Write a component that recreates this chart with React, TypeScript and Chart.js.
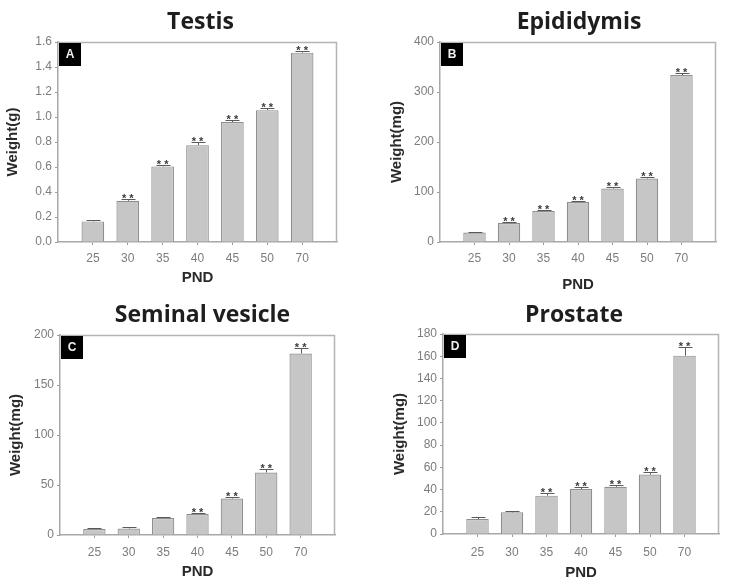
import React, { useEffect, useRef } from 'react';
import { Chart, registerables } from 'chart.js';
Chart.register(...registerables);

// ---- data ----
const PND = ['25', '30', '35', '40', '45', '50', '70'];

const testisValues = [0.165, 0.33, 0.605, 0.775, 0.96, 1.055, 1.515];
const testisErrors = [0.008, 0.015, 0.015, 0.025, 0.02, 0.02, 0.015];
const testisSig = [false, true, true, true, true, true, true];

const epididymisValues = [19, 38, 62, 80, 107, 127, 334];
const epididymisErrors = [1.5, 3, 3, 3, 3, 3, 4];
const epididymisSig = [false, true, true, true, true, true, true];

const vesicleValues = [6, 6.5, 17, 21, 36.5, 62.5, 181.5];
const vesicleErrors = [0.8, 1.5, 0.8, 1.5, 1.5, 3.5, 6];
const vesicleSig = [false, false, false, true, true, true, true];

const prostateValues = [13.5, 19.5, 34.5, 40.5, 42.5, 53.5, 160.5];
const prostateErrors = [1.5, 1, 2, 2, 1.5, 2, 8];
const prostateSig = [false, false, true, true, true, true, true];

// ---- layout / style per panel ----
type Panel = {
  title: string; letter: string; yTitle: string;
  values: number[]; errors: number[]; sig: boolean[];
  yMax: number; yStep: number; decimals: number;
  x: number; y: number; w: number; h: number;
  left: number; right: number; top: number; bottom: number;
  titleY: number; titleDx: number; yTitlePad: number; xTitlePad: number; xLabelPad: number;
};

const panels: Panel[] = [
  { title: 'Testis', letter: 'A', yTitle: 'Weight(g)', values: testisValues, errors: testisErrors, sig: testisSig,
    yMax: 1.6, yStep: 0.2, decimals: 1, x: 0, y: 0, w: 366, h: 290,
    left: 58, right: 337, top: 42, bottom: 242, titleY: 22, titleDx: 3, yTitlePad: 4, xTitlePad: 3, xLabelPad: 6 },
  { title: 'Epididymis', letter: 'B', yTitle: 'Weight(mg)', values: epididymisValues, errors: epididymisErrors, sig: epididymisSig,
    yMax: 400, yStep: 100, decimals: 0, x: 366, y: 0, w: 366, h: 290,
    left: 74, right: 350, top: 42, bottom: 242, titleY: 22, titleDx: 1, yTitlePad: 22, xTitlePad: -4, xLabelPad: 6 },
  { title: 'Seminal vesicle', letter: 'C', yTitle: 'Weight(mg)', values: vesicleValues, errors: vesicleErrors, sig: vesicleSig,
    yMax: 200, yStep: 50, decimals: 0, x: 0, y: 290, w: 366, h: 297,
    left: 60, right: 335, top: 45, bottom: 245, titleY: 25, titleDx: 5, yTitlePad: 7, xTitlePad: 6, xLabelPad: 7 },
  { title: 'Prostate', letter: 'D', yTitle: 'Weight(mg)', values: prostateValues, errors: prostateErrors, sig: prostateSig,
    yMax: 180, yStep: 20, decimals: 0, x: 366, y: 290, w: 366, h: 297,
    left: 77, right: 353, top: 44, bottom: 244, titleY: 25, titleDx: -7, yTitlePad: 25, xTitlePad: 5, xLabelPad: 8 },
];

const SANS = '"Liberation Sans", Arial, sans-serif';
const TICK_COLOR = '#7c7c7c';
const AXIS_COLOR = '#a8a8a8';

const decorPlugin = {
  id: 'decor',
  afterDatasetsDraw(chart: any, _args: any, opts: any) {
    const p: Panel = opts.panel;
    const { ctx, chartArea: a, scales } = chart;
    const ys = scales.y;
    const meta = chart.getDatasetMeta(0);
    ctx.save();
    // frame (top + right)
    ctx.strokeStyle = '#b4b4b4';
    ctx.lineWidth = 1.5;
    ctx.beginPath();
    ctx.moveTo(a.left, a.top + 0.5);
    ctx.lineTo(a.right - 0.5, a.top + 0.5);
    ctx.lineTo(a.right - 0.5, a.bottom);
    ctx.stroke();
    // error bars + significance
    meta.data.forEach((bar: any, i: number) => {
      const v = p.values[i];
      const e = p.errors[i];
      const x = Math.round(bar.x) + 0.5;
      const yTop = ys.getPixelForValue(v);
      const yCap = Math.round(ys.getPixelForValue(v + e)) + 0.5;
      ctx.strokeStyle = '#5a5a5a';
      ctx.lineWidth = 1;
      ctx.beginPath();
      ctx.moveTo(x, yTop);
      ctx.lineTo(x, yCap);
      ctx.moveTo(x - 7, yCap);
      ctx.lineTo(x + 7, yCap);
      ctx.stroke();
      if (p.sig[i]) {
        ctx.fillStyle = '#3a3a3a';
        ctx.font = 'bold 11px ' + SANS;
        ctx.textAlign = 'center';
        ctx.textBaseline = 'alphabetic';
        ctx.fillText('* *', bar.x, yCap + 2);
      }
    });
    // letter box
    ctx.fillStyle = '#000';
    ctx.fillRect(a.left + 1, a.top + 1, 22, 23);
    ctx.fillStyle = '#f0f0f0';
    ctx.font = 'bold 12px ' + SANS;
    ctx.textAlign = 'center';
    ctx.textBaseline = 'middle';
    ctx.fillText(p.letter, a.left + 12, a.top + 13);
    // title
    ctx.fillStyle = '#1e1e1e';
    ctx.font = 'bold 23px "Open Sans", sans-serif';
    ctx.textAlign = 'center';
    ctx.textBaseline = 'middle';
    ctx.fillText(p.title, (a.left + a.right) / 2 + p.titleDx, p.titleY);
    ctx.restore();
  },
};

function PanelChart({ p }: { p: Panel }) {
  const ref = useRef<HTMLCanvasElement | null>(null);
  useEffect(() => {
    if (!ref.current) return;
    const chart = new Chart(ref.current, {
      type: 'bar',
      data: {
        datasets: [{
          data: p.values.map((v, i) => ({ x: i, y: v })),
          backgroundColor: '#c6c6c6',
          borderColor: '#8e8e8e',
          borderWidth: 1.2,
          barPercentage: 0.65,
          categoryPercentage: 1,
        }],
      },
      options: {
        responsive: false,
        animation: false,
        layout: { padding: { left: 0, top: p.top, right: p.w - p.right, bottom: 0 } },
        plugins: {
          legend: { display: false },
          tooltip: { enabled: false },
          title: { display: false },
          decor: { panel: p },
        } as any,
        scales: {
          x: {
            type: 'linear',
            min: -1,
            max: 7,
            offset: false,
            ticks: {
              stepSize: 1,
              autoSkip: false,
              maxRotation: 0,
              padding: p.xLabelPad,
              color: TICK_COLOR,
              font: { family: SANS, size: 12 },
              callback: (val: any) => PND[Number(val)] ?? '',
            },
            grid: {
              display: true,
              drawOnChartArea: false,
              drawTicks: true,
              tickLength: 3,
              offset: false,
              color: (c: any) => (c.tick && c.tick.value >= 0 && c.tick.value <= 6 ? '#9a9a9a' : 'rgba(0,0,0,0)'),
            },
            border: { display: true, color: AXIS_COLOR, width: 1.5 },
            title: {
              display: true,
              text: 'PND',
              color: '#2a2a2a',
              font: { family: SANS, size: 15, weight: 'bold' },
              padding: { top: 0, bottom: p.xTitlePad },
            },
            afterFit: (s: any) => { s.height = p.h - p.bottom; },
          } as any,
          y: {
            type: 'linear',
            min: 0,
            max: p.yMax,
            ticks: {
              stepSize: p.yStep,
              padding: 3,
              color: TICK_COLOR,
              font: { family: SANS, size: 12 },
              callback: (val: any) => Number(val).toFixed(p.decimals),
            },
            grid: {
              display: true,
              drawOnChartArea: false,
              drawTicks: true,
              tickLength: 3,
              color: '#9a9a9a',
            },
            border: { display: true, color: AXIS_COLOR, width: 1.5 },
            title: {
              display: true,
              text: p.yTitle,
              color: '#2a2a2a',
              font: { family: SANS, size: 15, weight: 'bold' },
              padding: { top: p.yTitlePad, bottom: 0 },
            },
            afterFit: (s: any) => { s.width = p.left; },
          } as any,
        },
      },
      plugins: [decorPlugin],
    });
    return () => chart.destroy();
  }, [p]);
  return (
    <div style={{ position: 'absolute', left: p.x, top: p.y, width: p.w, height: p.h }}>
      <canvas ref={ref} width={p.w} height={p.h} style={{ display: 'block' }} />
    </div>
  );
}

export default function App() {
  return (
    <div style={{ position: 'absolute', left: 0, top: 0, width: 732, height: 587, background: '#fff', overflow: 'hidden' }}>
      {panels.map((p) => <PanelChart key={p.letter} p={p} />)}
    </div>
  );
}
